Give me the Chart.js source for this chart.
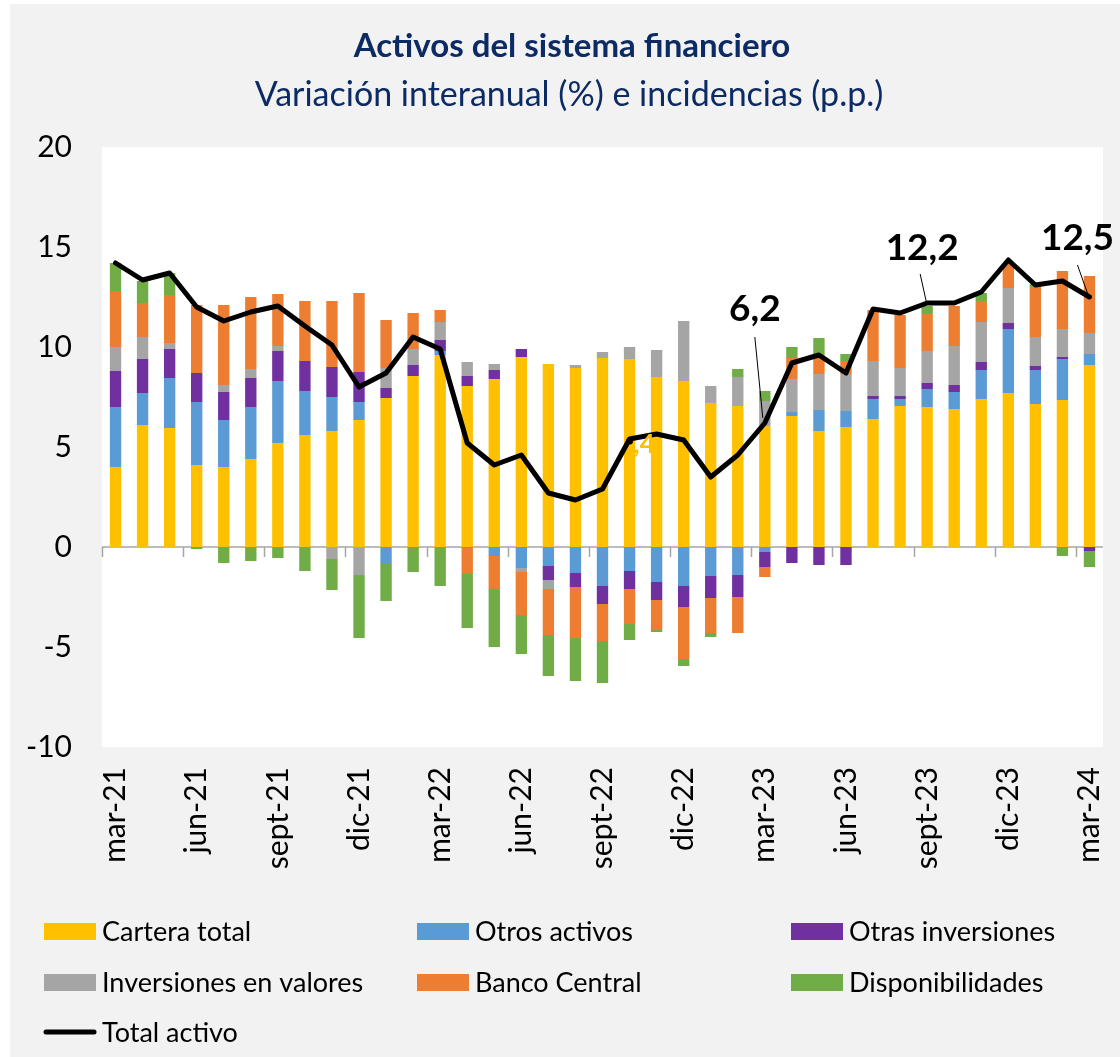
<!DOCTYPE html>
<html><head><meta charset="utf-8">
<script src="https://cdn.jsdelivr.net/npm/chart.js@4.4.1/dist/chart.umd.min.js"></script>
<style>html,body{margin:0;padding:0;background:#fff;} canvas{display:block}</style>
</head><body><canvas id="c" width="1120" height="1057"></canvas>
<script>
const categories = ["mar-21","abr-21","may-21","jun-21","jul-21","ago-21","sept-21","oct-21","nov-21","dic-21","ene-22","feb-22","mar-22","abr-22","may-22","jun-22","jul-22","ago-22","sept-22","oct-22","nov-22","dic-22","ene-23","feb-23","mar-23","abr-23","may-23","jun-23","jul-23","ago-23","sept-23","oct-23","nov-23","dic-23","ene-24","feb-24","mar-24"];
const carteraTotal = [4.0,6.1,5.95,4.1,4.0,4.4,5.2,5.6,5.8,6.35,7.45,8.55,9.6,8.05,8.4,9.5,9.15,8.95,9.45,9.4,8.5,8.3,7.2,7.05,6.05,6.55,5.8,6.0,6.4,7.05,7.0,6.9,7.4,7.7,7.15,7.35,9.1];
const otrosActivos = [3.0,1.6,2.5,3.15,2.35,2.6,3.1,2.2,1.7,0.9,-0.8,-0.05,0.2,-0.05,-0.45,-1.05,-0.95,-1.3,-1.95,-1.2,-1.75,-1.95,-1.45,-1.4,-0.25,0.2,1.05,0.8,1.0,0.35,0.9,0.85,1.45,3.2,1.7,2.05,0.55];
const otrasInversiones = [1.8,1.7,1.45,1.45,1.4,1.45,1.5,1.5,1.5,1.5,0.5,0.55,0.55,0.5,0.45,0.4,-0.7,-0.7,-0.9,-0.9,-0.9,-1.05,-1.1,-1.1,-0.75,-0.8,-0.9,-0.9,0.15,0.15,0.3,0.35,0.4,0.3,0.2,0.1,-0.2];
const inversionesValores = [1.2,1.1,0.3,0,0.35,0.45,0.25,0,-0.6,-1.4,1.0,0.8,0.9,0.7,0.3,-0.2,-0.45,0.15,0.3,0.6,1.35,3.0,0.85,1.45,1.25,1.65,1.8,1.85,1.75,1.4,1.6,1.95,2.0,1.75,1.45,1.4,1.05];
const bancoCentral = [2.8,1.7,2.4,3.4,4.0,3.6,2.6,3.0,3.3,3.95,2.4,1.8,0.6,-1.3,-1.65,-2.15,-2.3,-2.55,-1.85,-1.75,-1.5,-2.6,-1.75,-1.8,-0.5,1.05,0.85,0.65,2.55,2.65,1.85,2.0,1.05,1.25,2.5,2.9,2.85];
const disponibilidades = [1.4,1.1,1.1,-0.1,-0.8,-0.7,-0.55,-1.2,-1.55,-3.15,-1.9,-1.2,-1.95,-2.7,-2.9,-1.95,-2.05,-2.15,-2.1,-0.8,-0.1,-0.35,-0.2,0.4,0.5,0.55,0.95,0.35,0,0,0.4,0,0.4,0,0.15,-0.45,-0.8];
const totalActivo = [14.2,13.35,13.7,12.0,11.3,11.75,12.05,11.05,10.1,8.0,8.7,10.5,9.9,5.2,4.1,4.6,2.7,2.35,2.9,5.4,5.65,5.35,3.5,4.6,6.2,9.2,9.6,8.7,11.9,11.7,12.2,12.2,12.75,14.35,13.1,13.3,12.5];
const yTicks = [-10,-5,0,5,10,15,20];
const labeledPoints = [
  {i:24, text:"6,2", dx:-10, dy:-114, lx1:-10, ly1:-86, lx2:-2, ly2:-5},
  {i:30, text:"12,2", dx:-5, dy:-55, lx1:-7, ly1:-29, lx2:-1, ly2:-2},
  {i:36, text:"12,5", dx:-12, dy:-59, lx1:-12, ly1:-32, lx2:-1, ly2:-1}
];

const FONT = "Lato, 'Open Sans', sans-serif";
const colors = {cartera:"#FFC000", otros:"#5B9BD5", otras:"#7030A0", valores:"#A5A5A5", bc:"#ED7D31", disp:"#70AD47"};

const bg = {
  id:'bg',
  beforeDraw(chart){
    const c = chart.ctx, a = chart.chartArea;
    c.save();
    c.fillStyle = '#ffffff'; c.fillRect(0,0,chart.width,chart.height);
    c.fillStyle = '#f2f2f2'; c.fillRect(10,4,chart.width-10,chart.height-4);
    c.fillStyle = '#ffffff'; c.fillRect(a.left,a.top,a.right-a.left,a.bottom-a.top);
    c.restore();
  }
};

const zeroAxis = {
  id:'zeroAxis',
  beforeDatasetsDraw(chart){
    const c = chart.ctx, a = chart.chartArea, xs = chart.scales.x, ys = chart.scales.y;
    const y0 = ys.getPixelForValue(0);
    const w = xs.getPixelForValue(1) - xs.getPixelForValue(0);
    c.save();
    c.strokeStyle = '#a6a6a6'; c.lineWidth = 1.5;
    c.beginPath(); c.moveTo(a.left, y0); c.lineTo(a.right, y0); c.stroke();
    for (let k = 0; k < categories.length; k += 3) {
      const x = Math.round(xs.getPixelForValue(k) - w/2) + 0.5;
      c.beginPath(); c.moveTo(x, y0); c.lineTo(x, y0 + 10); c.stroke();
    }
    c.restore();
  }
};

const annot = {
  id:'annot',
  afterDatasetsDraw(chart){
    const c = chart.ctx, xs = chart.scales.x, ys = chart.scales.y;
    c.save();
    labeledPoints.forEach(p => {
      const x = xs.getPixelForValue(p.i), y = ys.getPixelForValue(totalActivo[p.i]);
      c.strokeStyle = '#000'; c.lineWidth = 1;
      c.beginPath(); c.moveTo(x+p.lx1, y+p.ly1); c.lineTo(x+p.lx2, y+p.ly2); c.stroke();
      c.fillStyle = '#000'; c.font = "bold 37px " + FONT;
      c.textAlign = 'center'; c.textBaseline = 'middle';
      c.fillText(p.text, x+p.dx, y+p.dy);
    });
    const xi = xs.getPixelForValue(19), yi = ys.getPixelForValue(totalActivo[19]);
    c.fillStyle = '#FFC000'; c.font = "bold 26px " + FONT;
    c.textAlign = 'left'; c.textBaseline = 'middle';
    c.fillText(",4", xi + 4, yi + 6);
    c.fillStyle = '#000';
    c.beginPath(); c.arc(xi, yi + 2, 3.5, 0, Math.PI*2); c.fill();
    c.restore();
  }
};

const titles = {
  id:'titles',
  afterDraw(chart){
    const c = chart.ctx;
    c.save();
    c.fillStyle = '#0c2a63';
    c.textAlign = 'center'; c.textBaseline = 'middle';
    c.font = "bold 33px " + FONT;
    c.fillText("Activos del sistema financiero", 572, 46);
    c.font = "34px " + FONT;
    c.fillText("Variación interanual (%) e incidencias (p.p.)", 569, 95);
    const ds = chart.data.datasets;
    const order = ["Cartera total","Otros activos","Otras inversiones","Inversiones en valores","Banco Central","Disponibilidades","Total activo"];
    const cols = [44, 417, 791], rows = [931, 982, 1032];
    c.font = "27px " + FONT; c.textAlign = 'left'; c.textBaseline = 'middle';
    order.forEach((name, k) => {
      const d = ds.find(s => s.label === name);
      const x = cols[k % 3], y = rows[Math.floor(k / 3)];
      if (d.type === 'line') {
        c.strokeStyle = d.borderColor; c.lineWidth = 5; c.lineCap = 'round';
        c.beginPath(); c.moveTo(x + 2, y); c.lineTo(x + 50, y); c.stroke();
      } else {
        c.fillStyle = d.backgroundColor; c.fillRect(x, y - 8, 52, 17);
      }
      c.fillStyle = '#000';
      c.fillText(name, x + 58, y + 1);
    });
    c.restore();
  }
};

const barDs = (label, data, color) => ({type:'bar', label, data, backgroundColor: color, borderWidth:0, barPercentage:0.42, categoryPercentage:1.0, stack:'s', order:1});

new Chart(document.getElementById('c'), {
  data: {
    labels: categories,
    datasets: [
      barDs("Cartera total", carteraTotal, colors.cartera),
      barDs("Otros activos", otrosActivos, colors.otros),
      barDs("Otras inversiones", otrasInversiones, colors.otras),
      barDs("Inversiones en valores", inversionesValores, colors.valores),
      barDs("Banco Central", bancoCentral, colors.bc),
      barDs("Disponibilidades", disponibilidades, colors.disp),
      {type:'line', label:"Total activo", data: totalActivo, borderColor:'#000', backgroundColor:'#000', borderWidth:5, pointRadius:0, tension:0, stack:'t', order:0, borderJoinStyle:'round', borderCapStyle:'round'}
    ]
  },
  options: {
    responsive:false, animation:false, devicePixelRatio:1,
    layout:{padding:{left:10, right:17, top:147, bottom:180}},
    plugins:{legend:{display:false}, tooltip:{enabled:false}, title:{display:false}},
    scales:{
      x:{stacked:true, offset:true,
        grid:{display:false, drawTicks:false}, border:{display:false},
        ticks:{autoSkip:false, maxRotation:90, minRotation:90, padding:20, color:'#000',
          font:{family:FONT, size:30},
          callback:(v,i)=> (i % 3 === 0 ? categories[i] : '')},
        afterFit:(s)=>{s.height = 130; s.paddingLeft = 0; s.paddingRight = 0;}
      },
      y:{stacked:true, min:-10, max:20,
        grid:{display:false, drawTicks:false}, border:{display:false},
        ticks:{stepSize:5, padding:30, color:'#000', font:{family:FONT, size:30},
          callback:(v)=> yTicks.includes(v) ? String(v) : ''},
        afterFit:(s)=>{s.width = 92; s.paddingTop = 0; s.paddingBottom = 0;}
      }
    }
  },
  plugins:[bg, zeroAxis, annot, titles]
});
</script>
</body></html>
